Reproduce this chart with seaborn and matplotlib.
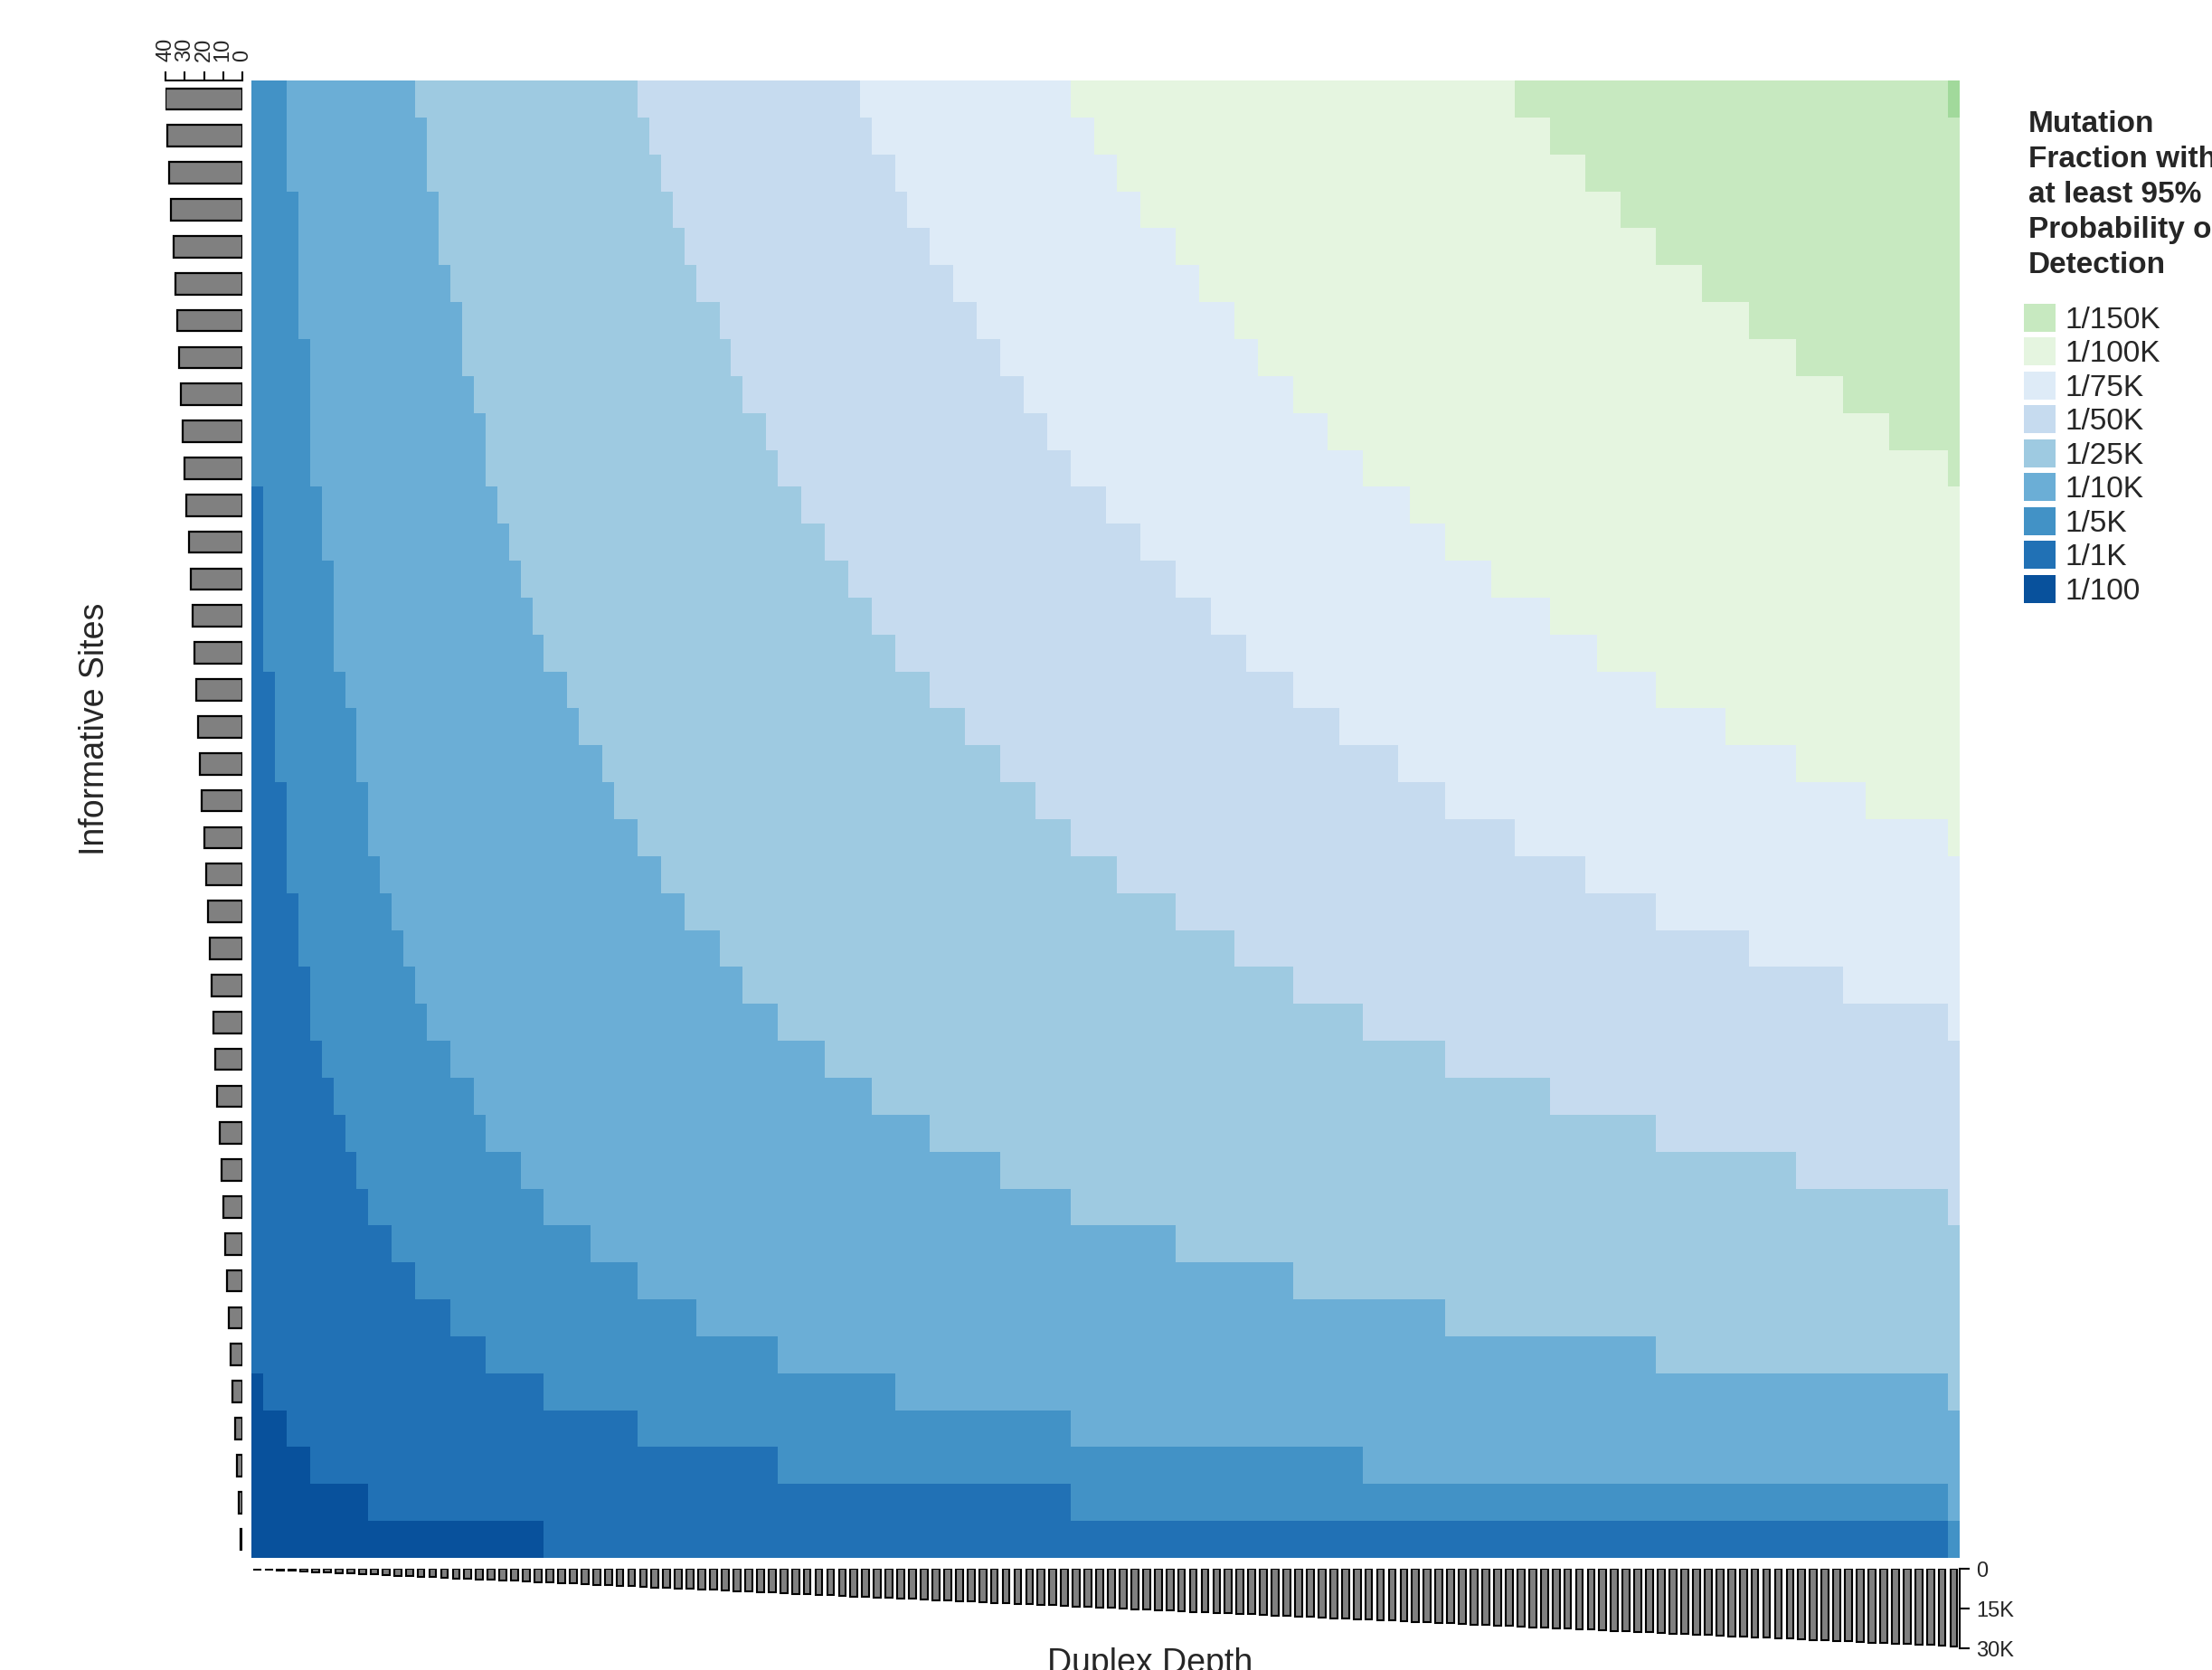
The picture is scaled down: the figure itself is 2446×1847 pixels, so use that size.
import numpy as np
import pandas as pd
import matplotlib
matplotlib.use("Agg")
import matplotlib.pyplot as plt
from matplotlib.colors import ListedColormap
from matplotlib.patches import Patch
import seaborn as sns

sns.set_theme(style="white")
plt.rcParams["font.family"] = ["Liberation Sans", "DejaVu Sans"]

# heatmap rows (top -> bottom) and columns (left -> right)
informative_sites = list(range(40, 0, -1))
duplex_depth = list(range(200, 29201, 200))

fraction_labels = ["1/100", "1/1K", "1/5K", "1/10K", "1/25K", "1/50K",
                   "1/75K", "1/100K", "1/150K", "1/200K"]
fraction_colors = ["#08519c", "#2171b5", "#4292c6", "#6baed6", "#9ecae1",
                   "#c6dbef", "#deebf7", "#e5f5e0", "#c7e9c0", "#a1d99b"]

# first depth column (per row, top -> bottom) at which each finer fraction is reached
# (146 = never reached inside the grid)
start_1k = [0, 0, 0, 0, 0, 0, 0, 0, 0, 0, 0, 0, 0, 0, 0, 0, 0, 0, 0, 0,
            0, 0, 0, 0, 0, 0, 0, 0, 0, 0, 0, 0, 0, 0, 0, 1, 3, 5, 10, 25]
start_5k = [0, 0, 0, 0, 0, 0, 0, 0, 0, 0, 0, 1, 1, 1, 1, 1, 2, 2, 2, 3,
            3, 3, 4, 4, 5, 5, 6, 7, 8, 9, 10, 12, 14, 17, 20, 25, 33, 45, 70, 145]
start_10k = [3, 3, 3, 4, 4, 4, 4, 5, 5, 5, 5, 6, 6, 7, 7, 7, 8, 9, 9, 10,
             10, 11, 12, 13, 14, 15, 17, 19, 20, 23, 25, 29, 33, 38, 45, 55, 70, 95, 145, 146]
start_25k = [14, 15, 15, 16, 16, 17, 18, 18, 19, 20, 20, 21, 22, 23, 24, 25, 27, 28, 30, 31,
             33, 35, 37, 40, 42, 45, 49, 53, 58, 64, 70, 79, 89, 102, 120, 145, 146, 146, 146, 146]
start_50k = [33, 34, 35, 36, 37, 38, 40, 41, 42, 44, 45, 47, 49, 51, 53, 55, 58, 61, 64, 67,
             70, 74, 79, 84, 89, 95, 102, 111, 120, 132, 145, 146, 146, 146, 146, 146, 146, 146, 146, 146]
start_75k = [52, 53, 55, 56, 58, 60, 62, 64, 66, 68, 70, 73, 76, 79, 82, 85, 89, 93, 98, 102,
             108, 114, 120, 128, 136, 145, 146, 146, 146, 146, 146, 146, 146, 146, 146, 146, 146, 146, 146, 146]
start_100k = [70, 72, 74, 76, 79, 81, 84, 86, 89, 92, 95, 99, 102, 106, 111, 115, 120, 126, 132, 138,
              145, 146, 146, 146, 146, 146, 146, 146, 146, 146, 146, 146, 146, 146, 146, 146, 146, 146, 146, 146]
start_150k = [108, 111, 114, 117, 120, 124, 128, 132, 136, 140, 145, 146, 146, 146, 146, 146, 146, 146, 146, 146,
              146, 146, 146, 146, 146, 146, 146, 146, 146, 146, 146, 146, 146, 146, 146, 146, 146, 146, 146, 146]
start_200k = [145, 146, 146, 146, 146, 146, 146, 146, 146, 146, 146, 146, 146, 146, 146, 146, 146, 146, 146, 146,
              146, 146, 146, 146, 146, 146, 146, 146, 146, 146, 146, 146, 146, 146, 146, 146, 146, 146, 146, 146]

starts = [start_1k, start_5k, start_10k, start_25k, start_50k,
          start_75k, start_100k, start_150k, start_200k]
cols = np.arange(len(duplex_depth))
level = np.zeros((len(informative_sites), len(duplex_depth)), dtype=int)
for st in starts:
    level += (cols[None, :] >= np.array(st)[:, None]).astype(int)
grid = pd.DataFrame(level, index=informative_sites, columns=duplex_depth)

W, H = 2446, 1847
def box(x0, y0, x1, y1):
    return [x0 / W, 1 - y1 / H, (x1 - x0) / W, (y1 - y0) / H]

fig = plt.figure(figsize=(W / 100, H / 100), dpi=100)

#%% heatmap
ax = fig.add_axes(box(278, 89, 2167, 1723))
sns.heatmap(grid, ax=ax, cmap=ListedColormap(fraction_colors), vmin=-0.5, vmax=9.5,
            cbar=False, xticklabels=False, yticklabels=False)
ax.set_xlabel("")
ax.set_ylabel("")

#%% left marginal: informative sites
axl = fig.add_axes(box(183, 89, 268, 1723))
sns.barplot(x=informative_sites, y=[str(s) for s in informative_sites], orient="y",
            ax=axl, color="#808080", saturation=1, edgecolor="black", linewidth=1.6,
            width=0.58, errorbar=None)
axl.set_xlim(40, 0)
axl.set_ylim(39.5, -0.5)
axl.set_xticks([0, 10, 20, 30, 40])
axl.set_yticks([])
axl.set_xlabel("")
axl.set_ylabel("")
axl.xaxis.set_ticks_position("top")
axl.tick_params(axis="x", top=True, bottom=False, labeltop=True, labelbottom=False,
                length=7, width=1.5, color="black", labelsize=17, labelrotation=90,
                pad=8, direction="out")
for side in ["left", "right", "bottom"]:
    axl.spines[side].set_visible(False)
axl.spines["top"].set_color("black")
axl.spines["top"].set_linewidth(1.5)

#%% bottom marginal: duplex depth
axb = fig.add_axes(box(278, 1735, 2167, 1823))
sns.barplot(x=duplex_depth, y=duplex_depth, ax=axb, color="#808080", saturation=1,
            edgecolor="black", linewidth=1.5, width=0.6, errorbar=None)
axb.set_xlim(-0.5, len(duplex_depth) - 0.5)
axb.set_ylim(30000, 0)
axb.set_xticks([])
axb.set_yticks([0, 15000, 30000])
axb.set_yticklabels(["0", "15K", "30K"])
axb.set_xlabel("")
axb.set_ylabel("")
axb.yaxis.set_ticks_position("right")
axb.tick_params(axis="y", right=True, left=False, labelright=True, labelleft=False,
                length=8, width=1.5, color="black", labelsize=17, pad=5, direction="out")
for side in ["left", "top", "bottom"]:
    axb.spines[side].set_visible(False)
axb.spines["right"].set_color("black")
axb.spines["right"].set_linewidth(1.5)

#%% labels and legend
fig.text(105 / W, 1 - 806 / H, "Informative Sites", rotation=90, ha="center",
         va="center", fontsize=27)
fig.text(1272 / W, 1 - 1822 / H, "Duplex Depth", ha="center", va="top", fontsize=27)

fig.text(2243 / W, 1 - 122 / H,
         "Mutation\nFraction with\nat least 95%\nProbability of\nDetection",
         ha="left", va="top", fontsize=24, fontweight="bold", linespacing=1.33)

order = list(range(8, -1, -1))
handles = [Patch(facecolor=fraction_colors[i], edgecolor="none") for i in order]
labels = [fraction_labels[i] for i in order]
fig.legend(handles, labels, loc="upper left", bbox_to_anchor=(2238 / W, 1 - 336 / H),
           frameon=False, fontsize=24, handlelength=1.05, handleheight=1.05,
           handletextpad=0.3, labelspacing=0.11, borderpad=0, borderaxespad=0)

fig.savefig("out.png", dpi=100)
